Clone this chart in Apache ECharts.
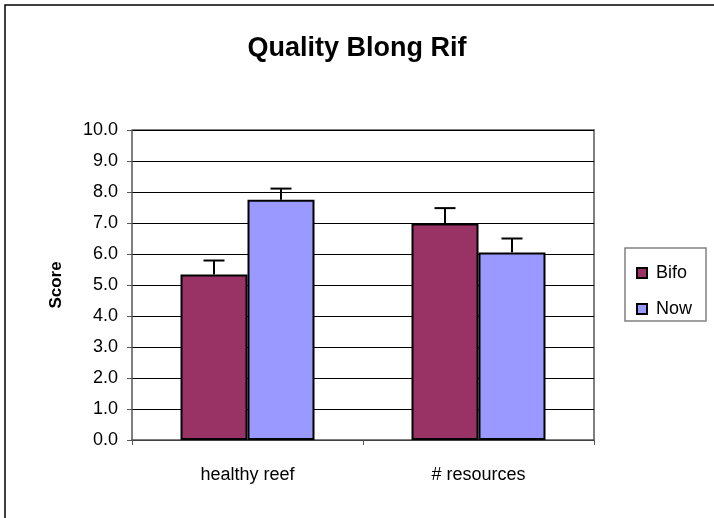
<!DOCTYPE html>
<html>
<head>
<meta charset="utf-8">
<script src="https://cdn.jsdelivr.net/npm/echarts@6/dist/echarts.min.js"></script>
<style>
html,body{margin:0;padding:0;background:#fff;}
#chart{width:714px;height:518px;}
</style>
</head>
<body>
<div id="chart"></div>
<script>
var categories = ['healthy reef', '# resources'];
var seriesNames = ['Bifo', 'Now'];
var bifoValues = [5.34, 6.98];
var nowValues = [7.75, 6.05];
var bifoErrors = [0.45, 0.5];
var nowErrors = [0.36, 0.45];
var yTicks = [0, 10, 1];

var FONT = '"Liberation Sans", Arial, sans-serif';
var GAP = 0.42;

function errorSeries(values, errors, idx) {
  var data = values.map(function (v, i) { return [i, v, v + errors[i]]; });
  return {
    type: 'custom',
    silent: true,
    z: 5,
    data: data,
    renderItem: function (params, api) {
      var c = api.value(0);
      var lo = api.coord([c, api.value(1)]);
      var hi = api.coord([c, api.value(2)]);
      var band = api.size([1, 0])[0];
      var bw = band * (1 - GAP) / 2;
      var x = lo[0] + (idx === 0 ? -bw / 2 : bw / 2);
      var cap = 10.5;
      var st = { stroke: '#000', lineWidth: 2 };
      return {
        type: 'group',
        children: [
          { type: 'line', shape: { x1: x, y1: lo[1], x2: x, y2: hi[1] }, style: st },
          { type: 'line', shape: { x1: x - cap, y1: hi[1], x2: x + cap, y2: hi[1] }, style: st }
        ]
      };
    }
  };
}

var chart = echarts.init(document.getElementById('chart'));
chart.setOption({
  animation: false,
  backgroundColor: '#fff',
  textStyle: { fontFamily: FONT },
  graphic: [
    { type: 'rect', shape: { x: 5, y: 5, width: 720, height: 530 }, style: { fill: null, stroke: '#000', lineWidth: 1.5 }, z: -1 },
    { type: 'polyline', shape: { points: [[132, 130], [594, 130], [594, 440]] }, style: { fill: null, stroke: '#808080', lineWidth: 2 }, z: 0 },
    { type: 'rect', shape: { x: 625, y: 248, width: 81, height: 73 }, style: { fill: '#fff', stroke: '#808080', lineWidth: 1.5 }, z: 0 }
  ],
  title: {
    text: 'Quality Blong Rif',
    left: 'center',
    top: 30,
    textStyle: { fontFamily: FONT, fontSize: 27, fontWeight: 'bold', color: '#000' }
  },
  legend: {
    orient: 'vertical',
    left: 631,
    top: 257,
    itemWidth: 10,
    itemHeight: 10,
    itemGap: 14,
    icon: 'rect',
    itemStyle: { borderColor: '#000', borderWidth: 2 },
    textStyle: { fontFamily: FONT, fontSize: 18, lineHeight: 22, color: '#000', padding: [0, 0, 0, 4] },
    data: seriesNames
  },
  grid: { left: 132, right: 120, top: 130, bottom: 78 },
  xAxis: {
    type: 'category',
    data: categories,
    axisLine: { lineStyle: { color: '#555', width: 1.5 } },
    axisTick: { show: true, length: 5, lineStyle: { color: '#555' } },
    axisLabel: { margin: 26, fontFamily: FONT, fontSize: 18, color: '#000' }
  },
  yAxis: {
    type: 'value',
    min: yTicks[0],
    max: yTicks[1],
    interval: yTicks[2],
    name: 'Score',
    nameLocation: 'middle',
    nameGap: 67,
    nameTextStyle: { fontFamily: FONT, fontSize: 17, fontWeight: 'bold', color: '#000' },
    axisLine: { show: true, lineStyle: { color: '#555', width: 1.5 } },
    axisTick: { show: true, length: 5, lineStyle: { color: '#555' } },
    splitLine: { lineStyle: { color: '#000', width: 1 } },
    axisLabel: { margin: 14, fontFamily: FONT, fontSize: 18, color: '#000', formatter: function (v) { return v.toFixed(1); } }
  },
  series: [
    { name: 'Bifo', type: 'bar', data: bifoValues, barGap: '0%', barCategoryGap: (GAP * 100) + '%', itemStyle: { color: '#993366', borderColor: '#000', borderWidth: 2 } },
    { name: 'Now', type: 'bar', data: nowValues, barGap: '0%', barCategoryGap: (GAP * 100) + '%', itemStyle: { color: '#9999FF', borderColor: '#000', borderWidth: 2 } },
    errorSeries(bifoValues, bifoErrors, 0),
    errorSeries(nowValues, nowErrors, 1)
  ]
});
</script>
</body>
</html>
